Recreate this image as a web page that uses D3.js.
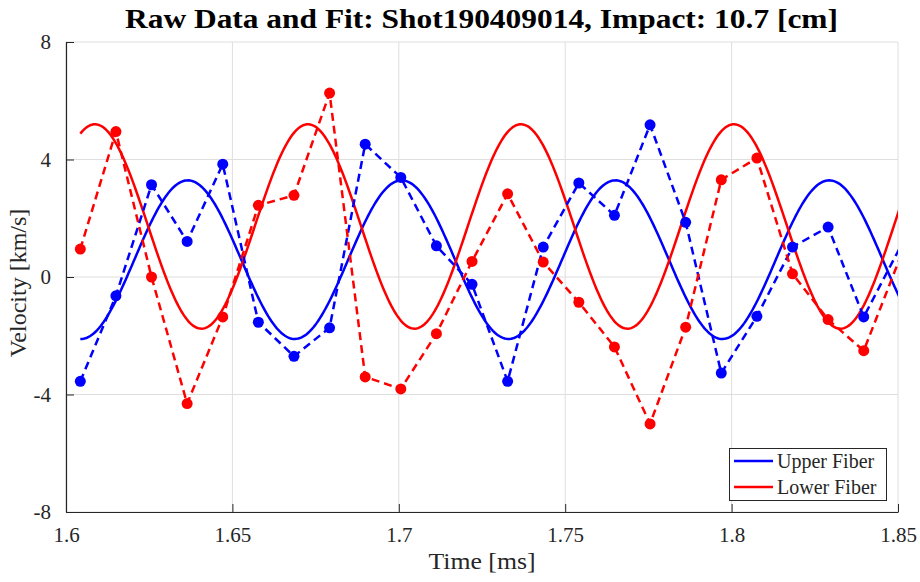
<!DOCTYPE html>
<html>
<head>
<meta charset="utf-8">
<script src="https://cdn.jsdelivr.net/npm/d3@7"></script>
<style>
  html, body { margin: 0; padding: 0; background: #fff; }
  svg { display: block; }
  svg text { font-family: "Liberation Serif", "DejaVu Serif", serif !important; }
</style>
</head>
<body>
<svg id="chart" width="920" height="582"></svg>
<script>
// ---- data ----
const times = [1.6043, 1.6150, 1.6257, 1.6364, 1.6471, 1.6578, 1.6685, 1.6792,
               1.6899, 1.7006, 1.7113, 1.7220, 1.7327, 1.7434, 1.7541, 1.7648,
               1.7755, 1.7862, 1.7969, 1.8076, 1.8183, 1.8290, 1.8397, 1.8504];
const upperRaw = [-3.55, -0.64, 3.14, 1.21, 3.84, -1.54, -2.70, -1.73,
                  4.52, 3.39, 1.06, -0.25, -3.55, 1.02, 3.20, 2.10,
                  5.18, 1.86, -3.27, -1.34, 1.02, 1.70, -1.36, 0.96];
const lowerRaw = [0.95, 4.95, 0.00, -4.31, -1.36, 2.44, 2.78, 6.26,
                  -3.40, -3.81, -1.93, 0.53, 2.83, 0.51, -0.86, -2.38,
                  -5.00, -1.71, 3.31, 4.05, 0.11, -1.45, -2.51, 0.59];
// fit parameters: [offset, amplitude, period (ms), time of peak (ms)]
const upperFit = [0.59, 2.70, 0.06425, 1.6366];
const lowerFit = [1.72, 3.48, 0.0640, 1.6087];
const xTicks = [1.6, 1.65, 1.7, 1.75, 1.8, 1.85];
const yTicks = [-8, -4, 0, 4, 8];
const seriesNames = ["Upper Fiber", "Lower Fiber"];
const seriesColors = ["#0000ff", "#ff0000"];
const titleText = "Raw Data and Fit: Shot190409014, Impact: 10.7 [cm]";

// ---- layout ----
const FONT = '"Liberation Serif", "DejaVu Serif", serif';
const svg = d3.select("#chart");
const L = 66, R = 898, T = 42, B = 512;
const x = d3.scaleLinear().domain([1.6, 1.85]).range([L, R]);
const y = d3.scaleLinear().domain([-8, 8]).range([B, T]);
const axisColor = "#262626";

svg.append("defs").append("clipPath").attr("id", "clip")
  .append("rect").attr("x", L).attr("y", T).attr("width", R - L).attr("height", B - T);

// grid
const grid = svg.append("g");
grid.selectAll(".gx").data(xTicks).join("line")
  .attr("x1", d => x(d)).attr("x2", d => x(d)).attr("y1", T).attr("y2", B)
  .attr("stroke", "#dedede").attr("stroke-width", 1);
grid.selectAll(".gy").data(yTicks).join("line")
  .attr("x1", L).attr("x2", R).attr("y1", d => y(d)).attr("y2", d => y(d))
  .attr("stroke", "#dedede").attr("stroke-width", 1);

// fit curves (evaluated from the fit parameters)
function fitFn(p) {
  return t => p[0] + p[1] * Math.cos(2 * Math.PI * (t - p[3]) / p[2]);
}
const fineT = d3.range(times[0], 1.86, 0.0005);
const plot = svg.append("g").attr("clip-path", "url(#clip)");
[upperFit, lowerFit].forEach((p, i) => {
  const f = fitFn(p);
  plot.append("path")
    .datum(fineT)
    .attr("fill", "none").attr("stroke", seriesColors[i]).attr("stroke-width", 2.5)
    .attr("d", d3.line().x(t => x(t)).y(t => y(f(t))));
});

// raw dashed lines + markers
[upperRaw, lowerRaw].forEach((vals, i) => {
  const pts = times.map((t, k) => [t, vals[k]]);
  plot.append("path")
    .datum(pts)
    .attr("fill", "none").attr("stroke", seriesColors[i]).attr("stroke-width", 2.5)
    .attr("stroke-dasharray", "8,5")
    .attr("d", d3.line().x(d => x(d[0])).y(d => y(d[1])));
  plot.selectAll(null).data(pts.filter(d => d[0] <= 1.85)).join("circle")
    .attr("cx", d => x(d[0])).attr("cy", d => y(d[1])).attr("r", 5.5)
    .attr("fill", seriesColors[i]);
});

// axes
const fmt = d => String(d);
const xAxis = d3.axisBottom(x).tickValues(xTicks).tickFormat(fmt).tickSizeInner(-8).tickSizeOuter(0).tickPadding(15);
const yAxis = d3.axisLeft(y).tickValues(yTicks).tickFormat(fmt).tickSizeInner(-8).tickSizeOuter(0).tickPadding(15);
const gx = svg.append("g").attr("transform", `translate(0,${B})`).call(xAxis);
const gy = svg.append("g").attr("transform", `translate(${L},0)`).call(yAxis);
[gx, gy].forEach(g => {
  g.attr("font-family", FONT).attr("font-size", 21);
  g.select(".domain").attr("stroke", axisColor).attr("stroke-width", 1.2);
  g.selectAll(".tick line").attr("stroke", axisColor).attr("stroke-width", 1);
  g.selectAll(".tick text").attr("fill", axisColor);
});
gx.selectAll(".tick text").attr("dy", "0.71em");

// titles
svg.append("text").attr("x", 481.5).attr("y", 28).attr("text-anchor", "middle")
  .attr("font-family", FONT).attr("font-size", 28).attr("font-weight", "bold").attr("fill", "#000")
  .attr("textLength", 713).attr("lengthAdjust", "spacingAndGlyphs")
  .text(titleText);
svg.append("text").attr("x", x(1.725)).attr("y", 569).attr("text-anchor", "middle")
  .attr("font-family", FONT).attr("font-size", 24).attr("fill", axisColor)
  .attr("textLength", 107).attr("lengthAdjust", "spacingAndGlyphs")
  .text("Time [ms]");
svg.append("text").attr("transform", `translate(26,283) rotate(-90)`)
  .attr("text-anchor", "middle").attr("font-family", FONT).attr("font-size", 24).attr("fill", axisColor)
  .text("Velocity [km/s]");

// legend
const lg = svg.append("g");
lg.append("rect").attr("x", 729.5).attr("y", 448.5).attr("width", 157).attr("height", 52)
  .attr("fill", "#fff").attr("stroke", axisColor).attr("stroke-width", 1);
seriesNames.forEach((name, i) => {
  const yy = 461 + i * 26;
  lg.append("line").attr("x1", 734).attr("x2", 773).attr("y1", yy).attr("y2", yy)
    .attr("stroke", seriesColors[i]).attr("stroke-width", 2.5);
  lg.append("text").attr("x", 777).attr("y", yy).attr("dy", "0.35em")
    .attr("font-family", FONT).attr("font-size", 20).attr("fill", axisColor).text(name);
});
</script>
</body>
</html>
